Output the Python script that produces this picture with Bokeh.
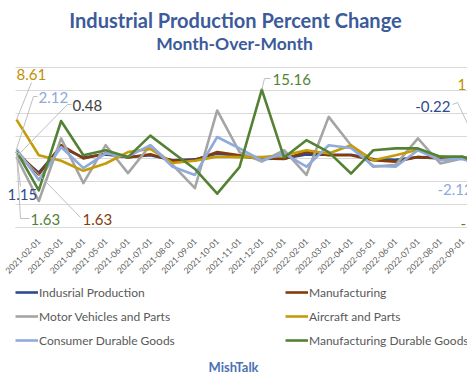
import math
from bokeh.plotting import figure
from bokeh.models import Range1d, FixedTicker, Label, Legend, LegendItem, BoxAnnotation
from bokeh.embed import file_html
from bokeh.resources import INLINE

# ---------------- data ----------------
months = ["2021-01-01", "2021-02-01", "2021-03-01", "2021-04-01", "2021-05-01",
          "2021-06-01", "2021-07-01", "2021-08-01", "2021-09-01", "2021-10-01",
          "2021-11-01", "2021-12-01", "2022-01-01", "2022-02-01", "2022-03-01",
          "2022-04-01", "2022-05-01", "2022-06-01", "2022-07-01", "2022-08-01",
          "2022-09-01", "2022-10-01"]
industrial = [1.15, -3.0, 2.6, 0.3, 1.0, 0.4, 0.8, -0.3, -0.1, 1.2, 0.6, 0.0,
              0.1, 1.0, 0.9, 0.9, 0.0, -0.2, 0.4, 0.3, 0.0, -0.22]
manufacturing = [1.63, -3.4, 3.0, 0.1, 1.2, 0.3, 1.0, -0.4, -0.3, 1.5, 0.8, 0.1,
                 0.0, 1.5, 0.8, 0.8, -0.3, -0.6, 0.4, 0.1, 0.4, -0.1]
motor_vehicles = [0.48, -9.2, 4.5, -5.3, 3.0, -3.1, 3.0, -1.3, -6.4, 10.6, 1.5, -0.6,
                  1.9, -3.5, 9.2, 3.0, -1.7, -1.3, 4.5, -1.0, 0.1, -0.5]
aircraft = [8.61, 0.8, -0.4, -2.6, -1.0, 1.5, 2.2, -0.9, -0.4, 0.5, 0.4, 0.4,
            0.8, 1.9, 1.2, 3.0, -0.3, 0.8, 2.0, 0.5, 0.1, 1.2]
consumer_durable = [2.12, -4.6, 2.6, -2.0, 1.2, 0.5, 3.0, -1.7, -3.5, 4.8, 2.3, -0.3,
                    1.2, -1.7, 3.0, 2.4, -1.5, -1.7, 1.9, -0.3, 0.1, -2.12]
manuf_durable = [1.63, -6.9, 8.3, 0.8, 1.9, 0.4, 5.1, 1.4, -2.2, -7.6, -1.8, 15.16,
                 0.3, 4.1, 1.5, -3.2, 1.9, 2.3, 2.3, 0.5, 0.5, -1.5]
y_ticks = [-15, -10, -5, 0, 5, 10, 15, 20]

series_names = ["Indusrial Production", "Manufacturing", "Motor Vehicles and Parts",
                "Aircraft and Parts", "Consumer Durable Goods", "Manufacturing Durable Goods"]
series_values = [industrial, manufacturing, motor_vehicles, aircraft, consumer_durable, manuf_durable]
colors = ["#2E4A8F", "#843C0C", "#A5A5A5", "#C49C08", "#8FAADC", "#548235"]

# ---------------- layout ----------------
W, H = 467, 390
FL, FR, FT, FB = 0, 467, 0, 390
PXX = 22.3
PXY = 160 / 35.0
X0 = -(16 - FL) / PXX
X1 = X0 + (FR - FL) / PXX
Y1 = 20 + (67 - FT) / PXY
Y0 = Y1 - (FB - FT) / PXY

p = figure(width=W, height=H, output_backend="svg", toolbar_location=None,
           x_range=Range1d(X0, X1), y_range=Range1d(Y0, Y1),
           y_axis_location=None, min_border_left=FL, min_border_right=W - FR,
           min_border_top=FT, min_border_bottom=H - FB,
           background_fill_color="white", border_fill_color="white",
           outline_line_color=None)


def dx(px):
    return (px - FL) / PXX + X0


def dy(py):
    return Y1 - (py - FT) / PXY


p.ygrid.ticker = FixedTicker(ticks=y_ticks)
p.ygrid.grid_line_color = "#D9D9D9"
p.ygrid.grid_line_width = 1
p.xgrid.visible = False

# the plot area of the original starts a little right of the picture's edge
p.add_layout(BoxAnnotation(right=dx(15), fill_color="white", fill_alpha=1.0,
                           line_color=None, level="underlay"))

xa = p.xaxis[0]
xa.fixed_location = y_ticks[0]
# the first month's label lies almost wholly outside the cropped picture
xa.ticker = FixedTicker(ticks=list(range(1, len(months))))
xa.major_label_overrides = {i: m for i, m in enumerate(months)}
xa.major_label_orientation = math.pi / 4
xa.major_label_text_font = "Lato"
xa.major_label_text_font_size = "8.5px"
xa.major_label_text_color = "#595959"
xa.major_label_standoff = 6
xa.major_tick_line_color = None
xa.minor_tick_line_color = None
xa.axis_line_color = None

# axis line of the original (from the plot area's left edge)
p.line([dx(15), len(months)], [y_ticks[0], y_ticks[0]], line_color="#D9D9D9", line_width=1)

xs = list(range(len(months)))
renderers = []
for name, vals, col in zip(series_names, series_values, colors):
    r = p.line(xs, vals, line_color=col, line_width=2.6, line_join="round")
    renderers.append(r)

# ---------------- data labels with leader lines ----------------
LEADER = "#BFBFBF"


def leader(pts, idx, vals):
    lx = [dx(a) for a, b in pts] + [idx]
    ly = [dy(b) for a, b in pts] + [vals[idx]]
    p.line(lx, ly, line_color=LEADER, line_width=1)


def dlabel(txt, px, py, color, align="left", size="15px", style="normal"):
    p.add_layout(Label(x=dx(px), y=dy(py + 1), text=txt, text_align=align,
                       text_baseline="middle", text_font="Lato",
                       text_font_size=size, text_font_style=style, text_color=color))


leader([(31, 82)], 0, aircraft)
leader([(37, 96), (33, 96)], 0, consumer_durable)
leader([(71, 104), (67, 104)], 0, motor_vehicles)
leader([(20, 186)], 0, industrial)
leader([(29, 218), (20, 218)], 0, manuf_durable)
leader([(80, 217)], 0, manufacturing)
leader([(270, 78), (264, 78)], 11, manuf_durable)
leader([(452, 104), (457, 102)], 21, industrial)

dlabel(f"{aircraft[0]:.2f}", 16, 72.5, "#BF9000")
dlabel(f"{consumer_durable[0]:.2f}", 38, 96, "#8EA9DB")
dlabel(f"{motor_vehicles[0]:.2f}", 72, 104, "#404040")
dlabel(f"{industrial[0]:.2f}", 7, 192.5, "#2E4A8F")
dlabel(f"{manuf_durable[0]:.2f}", 30, 218, "#548235")
dlabel(f"{manufacturing[0]:.2f}", 82, 218, "#843C0C")
dlabel(f"{manuf_durable[11]:.2f}", 272, 77.5, "#548235")
dlabel(f"{industrial[21]:.2f}", 450, 105, "#2E4A8F", align="right")
dlabel(f"{aircraft[21]:.2f}", 457, 83, "#BF9000")
dlabel(f"{consumer_durable[21]:.2f}", 437, 188, "#8EA9DB")
dlabel(f"{manuf_durable[21]:.2f}", 460, 222, "#548235")

# ---------------- titles ----------------
dlabel("Industrial Production Percent Change", 235, 18.5, "#3B5B9A", align="center",
       size="20px", style="bold")
dlabel("Month-Over-Month", 234, 41.5, "#3B5B9A", align="center",
       size="17.5px", style="bold")

# ---------------- legend (below the plot area) ----------------
legend = Legend(items=[LegendItem(label=n, renderers=[r]) for n, r in zip(series_names, renderers)],
                orientation="horizontal", ncols=2, location=(15, 40),
                label_text_font="Lato", label_text_font_size="12px",
                label_text_color="#595959", glyph_width=23, glyph_height=20,
                label_height=20, label_standoff=1, spacing=4, padding=2, margin=0,
                label_width=242, border_line_color=None, background_fill_alpha=0)
p.add_layout(legend, "center")

dlabel("MishTalk", 233, 365, "#4A72B5", align="center", size="13px", style="bold")

open("out.html", "w").write(file_html(p, INLINE))
